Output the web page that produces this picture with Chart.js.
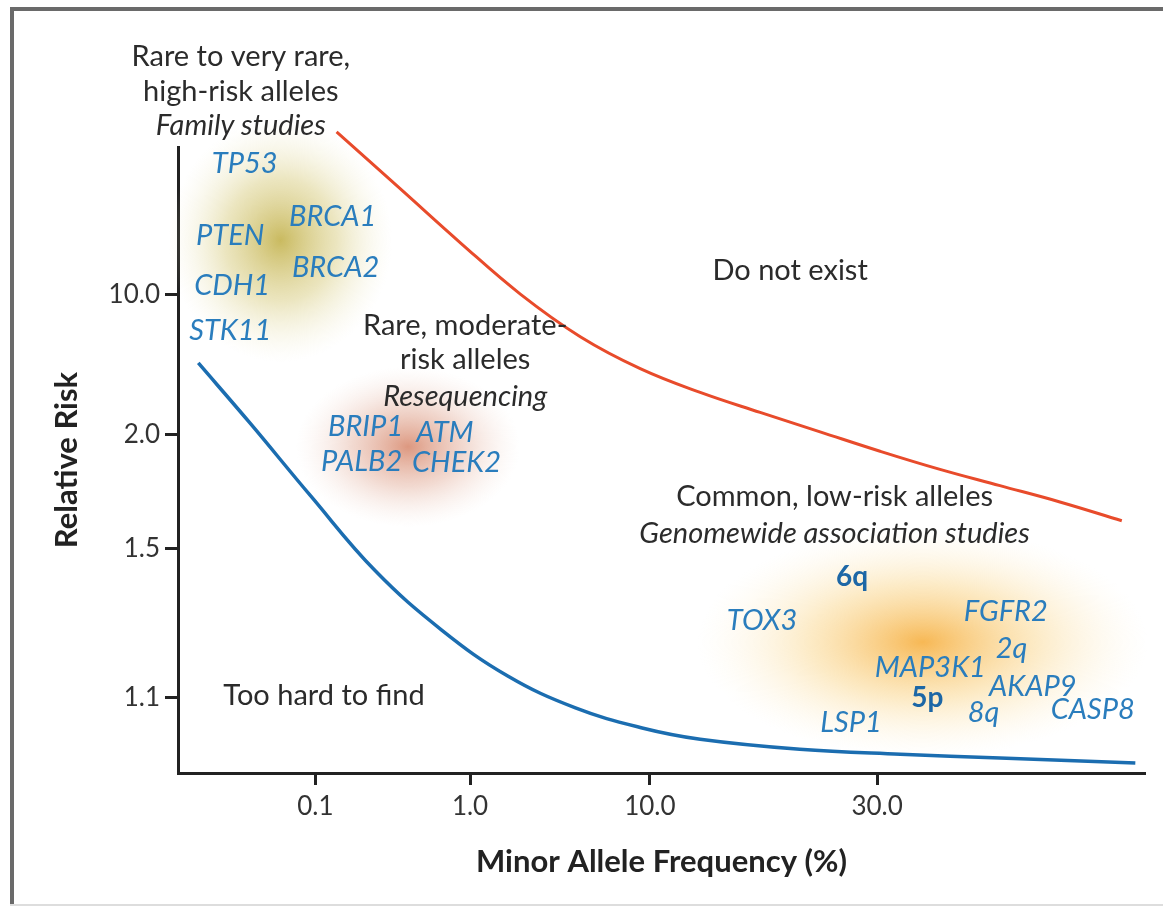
<!DOCTYPE html>
<html>
<head>
<meta charset="utf-8">
<script src="https://cdn.jsdelivr.net/npm/chart.js@4.4.1/dist/chart.umd.min.js"></script>
<style>
  html, body { margin: 0; padding: 0; background: #fff; }
</style>
</head>
<body>
<canvas id="chart-risk" width="1163" height="907"></canvas>
<script>
// the figure is schematic: both axes use plain position units (0-100)
// and the tick labels are hung on them at the places they sit in the picture
var xTickPos = [14.2, 30.2, 48.8, 72.3];
var xTickLabels = ["0.1", "1.0", "10.0", "30.0"];
var yTickPos = [76.4, 54.0, 35.9, 12.0];
var yTickLabels = ["10.0", "2.0", "1.5", "1.1"];

// upper bound curve (red) and lower bound curve (blue)
var upperX = [16.4, 23.0, 29.2, 35.4, 41.6, 47.8, 54.0, 60.2, 66.4, 72.6, 78.8, 85.0, 91.2, 97.6];
var upperY = [102.4, 93.3, 84.7, 76.5, 69.7, 64.6, 60.8, 57.6, 54.5, 51.4, 48.5, 45.9, 43.3, 40.3];
var lowerX = [2.1, 7.5, 13.7, 20.4, 27.3, 34.1, 41.1, 48.0, 54.0, 64.3, 74.7, 85.0, 99.0];
var lowerY = [65.5, 55.8, 44.3, 32.3, 22.8, 15.5, 10.4, 7.2, 5.4, 3.8, 3.0, 2.4, 1.6];

// shaded groups: high-risk, moderate-risk, low-risk
var blobX = [10.6, 23.8, 77.0];
var blobY = [85.1, 52.1, 20.9];

var geneNames = ["TP53", "PTEN", "BRCA1", "BRCA2", "CDH1", "STK11",
  "BRIP1", "ATM", "PALB2", "CHEK2",
  "6q", "TOX3", "FGFR2", "2q", "MAP3K1", "AKAP9", "5p", "8q", "CASP8", "LSP1"];
var geneX = [6.9, 5.4, 16.0, 16.3, 5.6, 5.4,
  19.4, 27.6, 19.0, 28.8,
  69.7, 60.4, 85.6, 86.2, 77.8, 88.4, 77.5, 83.3, 94.6, 69.6];
var geneY = [97.4, 85.9, 88.8, 80.7, 77.8, 70.6,
  55.3, 54.3, 49.7, 49.5,
  31.3, 24.4, 25.7, 19.8, 16.8, 13.8, 12.0, 9.6, 10.2, 8.0];

var noteLines = ["Rare to very rare,", "high-risk alleles", "Family studies",
  "Do not exist",
  "Rare, moderate-", "risk alleles", "Resequencing",
  "Common, low-risk alleles", "Genomewide association studies",
  "Too hard to find"];
var noteX = [6.5, 6.5, 6.5, 63.3, 29.7, 29.7, 29.7, 67.9, 67.9, 15.1];
var noteY = [114.4, 108.9, 103.4, 80.2, 71.4, 66.0, 60.2, 44.1, 38.3, 12.3];

var fam = '"Lato", "Open Sans", sans-serif';
var italicNotes = ["Family studies", "Resequencing", "Genomewide association studies"];
var boldGenes = ["6q", "5p"];
var blobLook = [
  { rx: 112, ry: 122, stops: ["rgba(192,174,68,0.85)", "rgba(216,204,128,0.5)", "rgba(240,236,205,0)"] },
  { rx: 112, ry: 80, stops: ["rgba(212,126,96,0.8)", "rgba(226,172,152,0.45)", "rgba(242,220,210,0)"] },
  { rx: 225, ry: 115, stops: ["rgba(246,176,66,0.9)", "rgba(250,214,140,0.5)", "rgba(253,242,214,0)"] }
];

function pointsOf(xs, ys) {
  return xs.map(function (x, i) { return { x: x, y: ys[i] }; });
}

var framePlugin = {
  id: "frame",
  beforeDraw: function (chart) {
    var ctx = chart.ctx;
    ctx.save();
    ctx.fillStyle = "#6a6a6a";
    ctx.fillRect(10, 7, chart.width - 10, 4);
    ctx.fillRect(10, 7, 4, 899);
    ctx.fillStyle = "#dddddd";
    ctx.fillRect(10, 904, chart.width - 10, 2);
    ctx.restore();
  }
};

var labelPlugin = {
  id: "labels",
  beforeDatasetsDraw: function (chart) {
    var ctx = chart.ctx, sx = chart.scales.x, sy = chart.scales.y;
    blobX.forEach(function (bx, i) {
      var look = blobLook[i];
      var cx = sx.getPixelForValue(bx), cy = sy.getPixelForValue(blobY[i]);
      ctx.save();
      ctx.translate(cx, cy);
      ctx.scale(1, look.ry / look.rx);
      var g = ctx.createRadialGradient(0, 0, 0, 0, 0, look.rx);
      g.addColorStop(0, look.stops[0]);
      g.addColorStop(0.5, look.stops[1]);
      g.addColorStop(1, look.stops[2]);
      ctx.fillStyle = g;
      ctx.beginPath();
      ctx.arc(0, 0, look.rx, 0, Math.PI * 2);
      ctx.fill();
      ctx.restore();
    });
  },
  afterDatasetsDraw: function (chart) {
    var ctx = chart.ctx, sx = chart.scales.x, sy = chart.scales.y;
    ctx.save();
    ctx.textAlign = "center";
    ctx.textBaseline = "middle";
    noteLines.forEach(function (t, i) {
      var it = italicNotes.indexOf(t) >= 0;
      ctx.font = (it ? "italic " : "") + "29px " + fam;
      ctx.fillStyle = "#2b2b2b";
      ctx.fillText(t, sx.getPixelForValue(noteX[i]), sy.getPixelForValue(noteY[i]));
    });
    geneNames.forEach(function (t, i) {
      var b = boldGenes.indexOf(t) >= 0;
      ctx.font = b ? "bold 28px " + fam : "italic 29px " + fam;
      ctx.fillStyle = b ? "#1d67a6" : "#2a7dbd";
      ctx.fillText(t, sx.getPixelForValue(geneX[i]), sy.getPixelForValue(geneY[i]));
    });
    ctx.restore();
  }
};

new Chart("chart-risk", {
  type: "scatter",
  data: {
    datasets: [{
      data: pointsOf(upperX, upperY),
      showLine: true,
      borderColor: "#e84b2b",
      borderWidth: 3,
      pointRadius: 0,
      tension: 0.4,
      clip: false
    }, {
      data: pointsOf(lowerX, lowerY),
      showLine: true,
      borderColor: "#1b6db0",
      borderWidth: 3.5,
      pointRadius: 0,
      tension: 0.4,
      clip: false
    }]
  },
  options: {
    responsive: false,
    animation: false,
    layout: { padding: { top: 147, right: 18, left: 0, bottom: 0 } },
    plugins: { legend: { display: false }, tooltip: { enabled: false } },
    scales: {
      x: {
        type: "linear", min: 0, max: 100,
        afterFit: function (s) { s.height = 134; },
        afterBuildTicks: function (s) { s.ticks = xTickPos.map(function (v) { return { value: v }; }); },
        ticks: {
          callback: function (v, i) { return xTickLabels[i]; },
          color: "#333", font: { family: fam, size: 26 }, padding: 6,
          autoSkip: false, maxRotation: 0
        },
        grid: { drawOnChartArea: false, drawTicks: true, tickLength: 12, tickWidth: 3, tickColor: "#222" },
        border: { color: "#222", width: 3 },
        title: {
          display: true, text: "Minor Allele Frequency (%)", color: "#222",
          font: { family: fam, size: 31, weight: "bold" }, padding: { top: 0, bottom: 26 }
        }
      },
      y: {
        type: "linear", min: 0, max: 100,
        afterFit: function (s) { s.width = 178; },
        afterBuildTicks: function (s) { s.ticks = yTickPos.map(function (v) { return { value: v }; }); },
        ticks: {
          callback: function (v, i) { return yTickLabels[i]; },
          color: "#333", font: { family: fam, size: 26 }, padding: 5, autoSkip: false
        },
        grid: { drawOnChartArea: false, drawTicks: true, tickLength: 13, tickWidth: 3, tickColor: "#222" },
        border: { color: "#222", width: 3 },
        title: {
          display: true, text: "Relative Risk", color: "#222",
          font: { family: fam, size: 31, weight: "bold" }, padding: { top: 48, bottom: 0 }
        }
      }
    }
  },
  plugins: [framePlugin, labelPlugin]
});
</script>
</body>
</html>
